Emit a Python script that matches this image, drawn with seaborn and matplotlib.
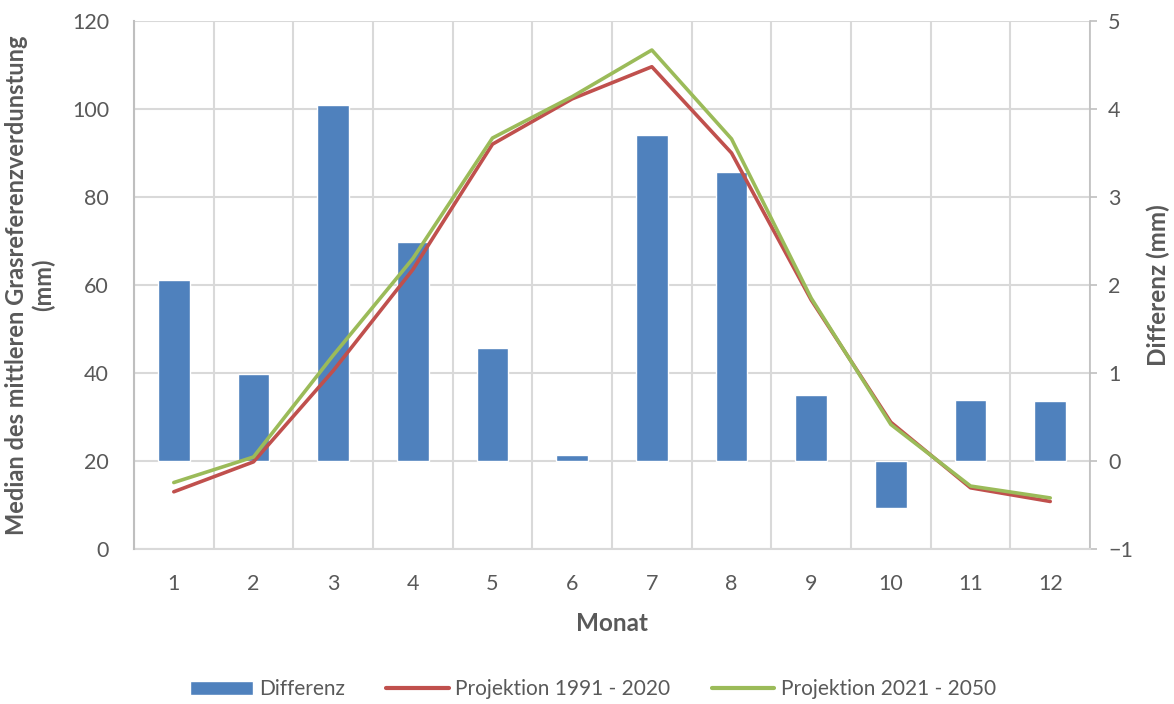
import numpy as np
import pandas as pd
import seaborn as sns
import matplotlib.pyplot as plt
from matplotlib.patches import Patch
from matplotlib.lines import Line2D

# Werte
monate = [1, 2, 3, 4, 5, 6, 7, 8, 9, 10, 11, 12]
differenz = [2.06, 0.99, 4.05, 2.49, 1.28, 0.07, 3.70, 3.28, 0.75, -0.53, 0.69, 0.68]
proj_1991_2020 = [13.0, 19.8, 40.5, 63.5, 92.0, 102.3, 109.6, 90.0, 56.6, 28.8, 13.9, 10.8]
proj_2021_2050 = [15.1, 20.9, 44.0, 66.0, 93.4, 102.8, 113.4, 93.2, 57.0, 28.3, 14.3, 11.6]

df = pd.DataFrame({'Monat': monate, 'Differenz': differenz,
                   'p1': proj_1991_2020, 'p2': proj_2021_2050})

sns.set_theme(style='white')
plt.rcParams['font.family'] = ['Lato', 'DejaVu Sans']
txt = '#595959'
grid_c = '#d9d9d9'
blau, rot, gruen = '#4F81BD', '#C0504D', '#9BBB59'
fs_tick, fs_lab = 15.5, 17.5

fig = plt.figure(figsize=(11.74, 7.04), dpi=100)
ax = fig.add_axes([0.1141, 0.2202, 0.8144, 0.75])

# %%
# Balken (rechte Achse) auf der unteren Ebene mit Gitter
sns.barplot(data=df, x='Monat', y='Differenz', native_scale=True, width=0.4,
            color=blau, saturation=1, ax=ax, zorder=2)
ax.set_ylim(-1, 5)
ax.set_yticks(range(-1, 6))
ax.set_xlim(0.5, 12.5)
ax.set_xticks(monate)
ax.set_xticks(np.arange(0.5, 13, 1), minor=True)
ax.grid(axis='y', color=grid_c, lw=1.5, zorder=0)
ax.grid(axis='x', which='minor', color=grid_c, lw=1.5, zorder=0)
ax.set_axisbelow(True)
ax.set_xlabel('Monat', fontsize=fs_lab, fontweight='bold', color=txt, labelpad=13)
ax.tick_params(axis='x', which='both', length=0, pad=18, labelsize=fs_tick, labelcolor=txt)
for s in ['top', 'left']:
    ax.spines[s].set_visible(False)
ax.spines['bottom'].set_color(grid_c)
ax.spines['bottom'].set_linewidth(1.5)
ax.spines['right'].set_color('#bfbfbf')
ax.spines['right'].set_linewidth(1.2)

# %%
# Linien (linke Achse) darüber
ax2 = ax.twinx()
ax2.set_zorder(ax.get_zorder() + 1)
ax2.patch.set_visible(False)
sns.lineplot(data=df, x='Monat', y='p1', color=rot, lw=2.6, ax=ax2, legend=False)
sns.lineplot(data=df, x='Monat', y='p2', color=gruen, lw=2.6, ax=ax2, legend=False)
ax2.set_ylim(0, 120)
ax2.set_yticks(range(0, 121, 20))
ax2.yaxis.tick_left()
ax2.yaxis.set_label_position('left')
ax2.set_ylabel('Median des mittleren Grasreferenzverdunstung\n(mm)', fontsize=17,
               fontweight='bold', color=txt, labelpad=12, linespacing=1.2)
ax2.tick_params(axis='y', length=0, pad=18, labelsize=fs_tick, labelcolor=txt)
ax2.set_xlabel('')
for s in ['top', 'right', 'bottom']:
    ax2.spines[s].set_visible(False)
ax2.spines['left'].set_color('#bfbfbf')
ax2.spines['left'].set_linewidth(1.5)

# rechte Achse nach twinx wieder rechts
ax.yaxis.tick_right()
ax.yaxis.set_label_position('right')
ax.set_ylabel('Differenz (mm)', fontsize=fs_lab, fontweight='bold', color=txt, labelpad=10)
ax.tick_params(axis='y', left=False, right=True, length=5, width=1.2, color='#bfbfbf', pad=8,
               labelsize=fs_tick, labelcolor=txt)

# %%
# Legende
handles = [Patch(facecolor=blau, label='Differenz'),
           Line2D([], [], color=rot, lw=3, label='Projektion 1991 - 2020'),
           Line2D([], [], color=gruen, lw=3, label='Projektion 2021 - 2050')]
leg = fig.legend(handles=handles, loc='center', bbox_to_anchor=(0.505, 0.021), ncol=3,
                 frameon=False, fontsize=15, handlelength=3.0, handletextpad=0.3,
                 columnspacing=2.0)
for t in leg.get_texts():
    t.set_color(txt)

fig.savefig('out.png', dpi=100)
